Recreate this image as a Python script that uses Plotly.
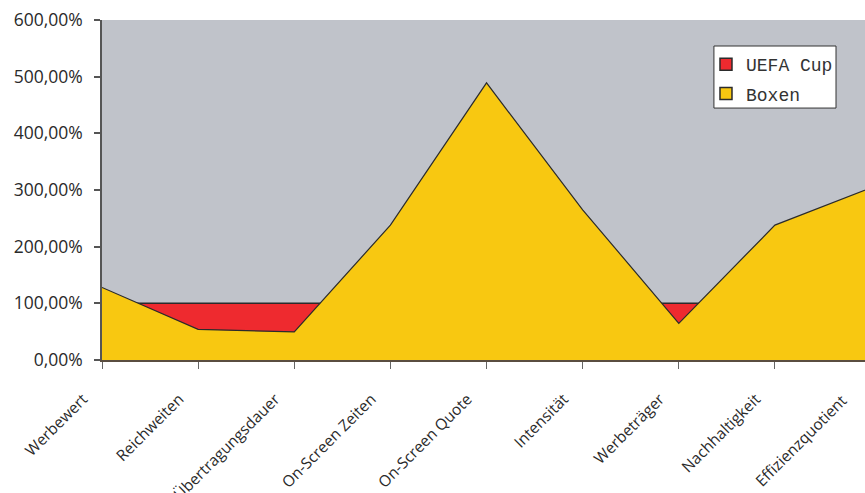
import plotly.graph_objects as go

# Kennzahlen im Vergleich (Index, 1,0 = 100 %)
kategorien = ["Werbewert", "Reichweiten", "Übertragungsdauer", "On-Screen Zeiten",
              "On-Screen Quote", "Intensität", "Werbeträger", "Nachhaltigkeit",
              "Effizienzquotient"]
uefa_cup = [1.0, 1.0, 1.0, 1.0, 1.0, 1.0, 1.0, 1.0, 1.0]
boxen = [1.28, 0.54, 0.495, 2.38, 4.89, 2.65, 0.647, 2.38, 3.04]

ROT = "#EE2A2F"
GELB = "#F8C811"
KONTUR = "#2b2b2b"
HINTERGRUND = "#C0C3CA"
TEXT = "#2a2a2a"
ACHSENFONT = dict(family="Open Sans, sans-serif", size=15.5, color=TEXT)

fig = go.Figure()

fig.add_trace(go.Scatter(
    x=kategorien, y=uefa_cup, name="UEFA Cup", mode="lines",
    fill="tozeroy", fillcolor=ROT, line=dict(color=KONTUR, width=1.5),
    showlegend=False, hoverinfo="skip",
))
fig.add_trace(go.Scatter(
    x=kategorien, y=boxen, name="Boxen", mode="lines",
    fill="tozeroy", fillcolor=GELB, line=dict(color=KONTUR, width=1.2),
    showlegend=False, hoverinfo="skip",
))

# Legendeneinträge als gefüllte Quadrate
for name, farbe in [("UEFA Cup", ROT), ("Boxen", GELB)]:
    fig.add_trace(go.Scatter(
        x=[None], y=[None], name=name, mode="markers", legendgroup=name,
        marker=dict(symbol="square", size=12, color=farbe,
                    line=dict(color=KONTUR, width=1.5)),
    ))

# Die Achse endet knapp vor der letzten Kategorie; deren Beschriftung separat
x_ende = len(kategorien) - 1 - 0.063

fig.add_annotation(
    x=(len(kategorien) - 1) / x_ende, y=0, xref="paper", yref="paper",
    text=kategorien[-1], textangle=-45, showarrow=False,
    xanchor="center", yanchor="middle", xshift=-70, yshift=-80,
    font=ACHSENFONT,
)

# Rahmen der Legende
fig.add_shape(
    type="rect", xref="paper", yref="paper",
    x0=0.802, x1=0.962, y0=0.741, y1=0.9235,
    fillcolor="white", line=dict(color="#333333", width=1), layer="above",
)

fig.update_layout(
    width=865, height=493,
    margin=dict(l=102, r=0, t=20, b=133),
    paper_bgcolor="white",
    plot_bgcolor=HINTERGRUND,
    separators=",.",
    font=dict(family="Open Sans, sans-serif", color=TEXT),
    legend=dict(
        x=0.7916, y=0.9235, xanchor="left", yanchor="top",
        bgcolor="rgba(0,0,0,0)", borderwidth=0,
        font=dict(family="Liberation Mono, Courier New, monospace", size=18, color="#333333"),
        itemwidth=30, tracegroupgap=3,
    ),
    xaxis=dict(
        type="category", range=[0, x_ende], automargin=False,
        showgrid=False, zeroline=False,
        showline=True, linecolor="#5a4d40", linewidth=2,
        ticks="outside", ticklen=7, tickcolor="#666666", tickwidth=1,
        tickangle=-45, tickfont=ACHSENFONT,
        ticklabelstandoff=15, ticklabelshift=-19,
    ),
    yaxis=dict(
        range=[0, 6], dtick=1, tickformat=".2%", automargin=False,
        showgrid=False, zeroline=False,
        showline=True, linecolor="#555555", linewidth=1.5,
        ticks="outside", ticklen=6, tickcolor="#555555", tickwidth=1.5,
        tickfont=dict(size=17.5, color=TEXT),
        ticklabelstandoff=8,
    ),
)

fig.write_html("out.html")
